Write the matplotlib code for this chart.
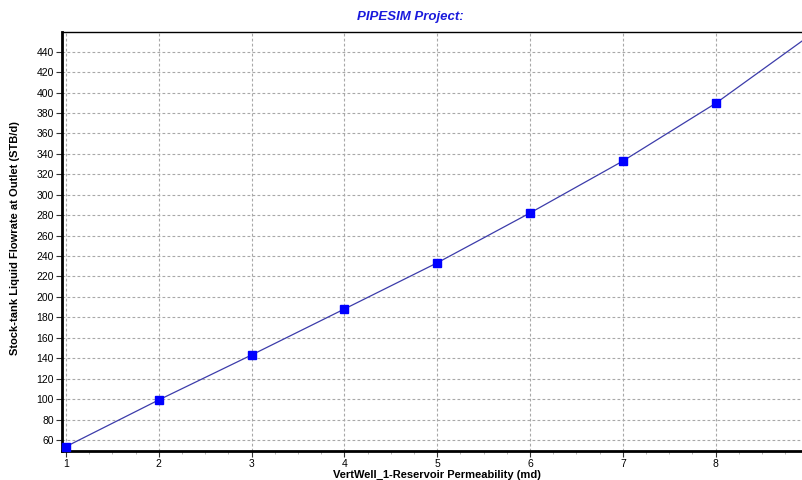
import matplotlib
matplotlib.use('Agg')
import matplotlib.pyplot as plt
from matplotlib.ticker import MultipleLocator

plt.rcParams['font.family'] = ['Liberation Sans', 'DejaVu Sans']

# sensitivity points
perm = [1, 2, 3, 4, 5, 6, 7, 8]
flow = [53.5, 99.2, 143.2, 188.2, 233.4, 282.2, 333.0, 389.5]
# curve carried on past the last point
line_x = [1, 2, 3, 4, 5, 6, 7, 8, 9]
line_y = [53.5, 99.2, 143.2, 188.2, 233.4, 282.2, 333.0, 389.5, 455.0]

xticks = [1, 2, 3, 4, 5, 6, 7, 8]
yticks = list(range(60, 441, 20))

fig = plt.figure(figsize=(8.02, 4.8), dpi=100)
ax = fig.add_axes([62/802, 1 - 451/480, 1 - 62/802, (451 - 32)/480])

ax.plot(line_x, line_y, color='#3c3caa', lw=0.9, zorder=3)
ax.plot(perm, flow, ls='none', marker='s', ms=6, mfc='#0000ff', mec='#0000ff', zorder=4, clip_on=False)

ax.set_xlim(0.957, 8.93)
ax.set_ylim(49.2, 459.3)
ax.set_xticks(xticks)
ax.set_yticks(yticks)
ax.xaxis.set_minor_locator(MultipleLocator(0.25))
ax.tick_params(axis='both', which='major', labelsize=7.5, length=4, width=0.8, color='#333333', pad=2)
ax.tick_params(axis='x', which='minor', length=2, width=0.6, color='#aaaaaa')

ax.grid(True, which='major', ls=(0, (2.5, 2)), color='#a8a8a8', lw=0.8)
ax.set_axisbelow(True)

ax.spines['left'].set_linewidth(2)
ax.spines['bottom'].set_linewidth(2)
ax.spines['top'].set_linewidth(1)
ax.spines['right'].set_visible(False)

fig.text(0.019, (451 + 32) / 2 / 480, 'Stock-tank Liquid Flowrate at Outlet (STB/d)', rotation=90,
         ha='center', va='center', fontsize=8, fontweight='bold')
fig.text(0.545, 1 - 475/480, 'VertWell_1-Reservoir Permeability (md)', ha='center', va='center',
         fontsize=8, fontweight='bold')
fig.text(0.511, 1 - 17/480, 'PIPESIM Project:', ha='center', va='center', fontsize=9.5,
         fontweight='bold', style='italic', color='#1a1adc')

fig.savefig('out.png', dpi=100)
